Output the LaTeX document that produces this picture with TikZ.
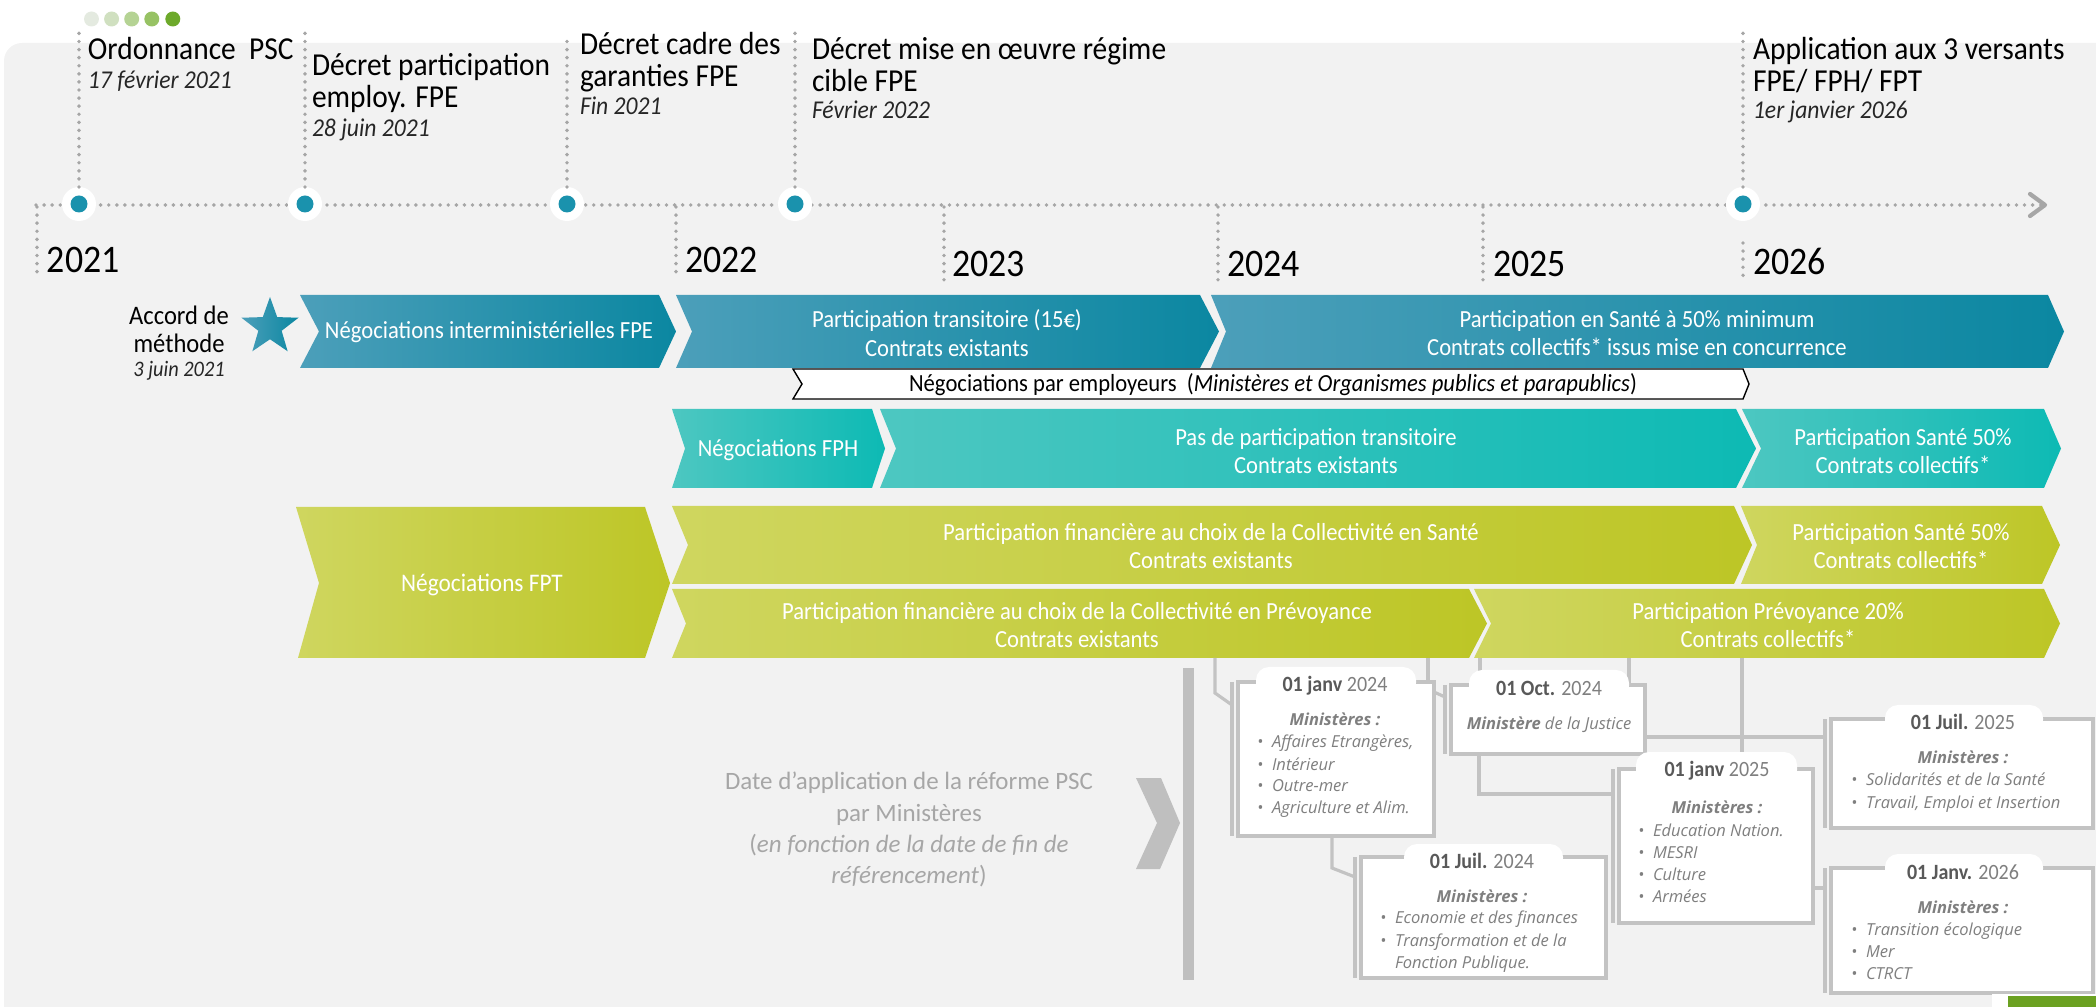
\documentclass[tikz,border=0pt]{standalone}
\usepackage{fontspec}
\setmainfont{Carlito}[FakeStretch=0.92]
\newfontfamily\plainfont{Carlito}
\newfontfamily\boxfont{Open Sans}
\usetikzlibrary{shapes.geometric}
\definecolor{bgc}{HTML}{F2F2F2}
\definecolor{dotg}{HTML}{A6A6A6}
\definecolor{tdot}{HTML}{1A92AD}
\definecolor{fpeL}{HTML}{4C9FBA}
\definecolor{fpeR}{HTML}{0B87A1}
\definecolor{fphL}{HTML}{4DC7C1}
\definecolor{fphR}{HTML}{0DBAB4}
\definecolor{fptL}{HTML}{CFD65F}
\definecolor{fptM}{HTML}{C9D42E}
\definecolor{fptR}{HTML}{BDC626}
\definecolor{boxg}{HTML}{C3C3C3}
\definecolor{barg}{HTML}{BFBFBF}
\definecolor{darkg}{HTML}{595959}
\definecolor{midg}{HTML}{7F7F7F}
\definecolor{lightg}{HTML}{A6A6A6}
\definecolor{dateg}{HTML}{262626}
\definecolor{dc1}{HTML}{E4EAE0}
\definecolor{dc2}{HTML}{D0E0C0}
\definecolor{dc3}{HTML}{B5D394}
\definecolor{dc4}{HTML}{97C264}
\definecolor{dc5}{HTML}{6DA92B}
\definecolor{grn}{HTML}{6BA121}
\newcommand\fTitle{\fontsize{9.1}{10}\selectfont}
\newcommand\fDate{\fontsize{7.3}{8}\selectfont\itshape}
\newcommand\fYear{\fontsize{11.1}{12}\selectfont}
\newcommand\fBar{\fontsize{7}{8.1}\selectfont}
\newcommand\fBoxDate{\fontsize{6.2}{7}\selectfont}
\newcommand\fBox{\boxfont\fontsize{4.7}{5.5}\selectfont}
\newcommand\fNote{\plainfont\fontsize{7.1}{8}\selectfont}
\tikzset{
  dotl/.style={draw=dotg,line width=1.1pt,line cap=round,dash pattern=on 0pt off 2.3pt},
  halo/.style={circle,fill=white,minimum size=3.4mm},
  tdotn/.style={circle,fill=tdot,minimum size=1.7mm},
  ttl/.style={anchor=base west,font=\fTitle,text=black},
  dte/.style={anchor=base west,font=\fDate,text=dateg},
  yr/.style={anchor=base west,font=\fYear,text=black},
  bartxt/.style={align=center,font=\fBar,text=white},
  conn/.style={draw=boxg,line width=0.9pt},
  brk/.style={draw=boxg,line width=1pt},
  mbox/.style={rectangle,draw=boxg,line width=0.9pt,fill=white,anchor=north west},
  tabw/.style={fill=white,rounded corners=1.3mm},
  bdate/.style={anchor=base,font=\fBoxDate,text=darkg},
  bmin/.style={anchor=base,font=\fBox\itshape\bfseries,text=midg},
  bitem/.style={anchor=base west,font=\fBox\itshape,text=midg},
  note/.style={anchor=base,font=\fNote,text=lightg}
}
\begin{document}
\begin{tikzpicture}[x=0.1mm,y=-0.1mm,every node/.style={inner sep=0pt,outer sep=0pt}]
\useasboundingbox (0,0) rectangle (2096,1007);
\begin{scope}
\clip (0,0) rectangle (2096,1007);
\fill[bgc,rounded corners=1.8mm] (4,43) rectangle (2160,1080);
\end{scope}
% small progress dots
\foreach \x/\c in {91.5/dc1,111.6/dc2,131.7/dc3,151.8/dc4,172.8/dc5}
  \fill[\c] (\x,19) circle (7.5);
% timeline
\coordinate (tl0) at (36,205);
\coordinate (tl1) at (2045,205);
\draw[dotl] (tl0) -- (tl1);
\draw[dotg,line width=1.2pt,line cap=round,line join=round] (2030,194) -- (tl1) -- (2030,216);
\foreach \x/\a/\b in {37/207/275,676/207/275,944/207/283,1218/207/283,1483/207/283,1743/243/278}
  \draw[dotl] (\x,\a) -- (\x,\b);
% milestones
\foreach \n/\x/\t in {1/79/33,2/305/28,3/567/37,4/795/33,5/1743/33}{
  \node[halo] (m\n) at (\x,204) {};
  \node[tdotn] (md\n) at (\x,204) {};
  \draw[dotl] (m\n.north) -- (\x,\t);
}
\node[ttl] (t1a) at (88,60) {Ordonnance\ \ PSC};
\node[dte] (t1b) at (88,89) {17 février 2021};
\node[ttl] (t2a) at (312,76) {Décret participation};
\node[ttl] (t2b) at (312,108) {employ. FPE};
\node[dte] (t2c) at (312,137) {28 juin 2021};
\node[ttl] (t3a) at (580,55) {Décret cadre des};
\node[ttl] (t3b) at (580,87) {garanties FPE};
\node[dte] (t3c) at (580,115) {Fin 2021};
\node[ttl] (t4a) at (812,60) {Décret mise en œuvre régime};
\node[ttl] (t4b) at (812,92) {cible FPE};
\node[dte] (t4c) at (812,119) {Février 2022};
\node[ttl] (t5a) at (1753,60) {Application aux 3 versants};
\node[ttl] (t5b) at (1753,92) {FPE/ FPH/ FPT};
\node[dte] (t5c) at (1753,119) {1er janvier 2026};
% years
\node[yr] (y21) at (47,273) {2021};
\node[yr] (y22) at (685,273) {2022};
\node[yr] (y23) at (952,277) {2023};
\node[yr] (y24) at (1227,277) {2024};
\node[yr] (y25) at (1493,277) {2025};
\node[yr] (y26) at (1753,275) {2026};
% accord de methode
\node[anchor=base,font=\fontsize{7.6}{8}\selectfont] (acc1) at (179,325) {Accord de};
\node[anchor=base,font=\fontsize{7.6}{8}\selectfont] (acc2) at (179,353) {méthode};
\node[anchor=base,font=\fontsize{6.3}{7}\selectfont\itshape,text=dateg] (acc3) at (179,377) {3 juin 2021};
\node[star,star points=5,star point ratio=2.45,minimum size=6mm,left color=fpeL,right color=fpeR] (star) at (270,327) {};
% FPE row
\path[left color=fpeL,right color=fpeR] (300,295) -- (319,331.5) -- (300,368) -- (659,368) -- (676,331.5) -- (659,295) -- cycle;
\path[left color=fpeL,right color=fpeR] (676,295) -- (692,331.5) -- (676,368) -- (1200,368) -- (1219,331.5) -- (1200,295) -- cycle;
\path[left color=fpeL,right color=fpeR] (1211,295) -- (1226,331.5) -- (1211,368) -- (2048,368) -- (2064,331.5) -- (2048,295) -- cycle;
\node[bartxt] (ta) at (489,332) {Négociations interministérielles FPE};
\node[bartxt] (tb) at (947,333) {Participation transitoire (15€)\\Contrats existants};
\node[bartxt] (tc) at (1637,333) {Participation en Santé à 50\% minimum\\Contrats collectifs* issus mise en concurrence};
% employeurs
\draw[black,line width=0.4pt,fill=white] (793,369) -- (802,384) -- (793,399) -- (1743,399) -- (1749,384) -- (1743,369) -- cycle;
\node[font=\fBar] (temp) at (1273,385) {Négociations par employeurs\ \ (\textit{Ministères et Organismes publics et parapublics})};
% FPH row
\path[left color=fphL,right color=fphR] (672,409) -- (685,448.5) -- (672,488) -- (872,488) -- (885,448.5) -- (872,409) -- cycle;
\path[left color=fphL,right color=fphR] (880,409) -- (896,448.5) -- (880,488) -- (1736,488) -- (1756,448.5) -- (1736,409) -- cycle;
\path[left color=fphL,right color=fphR] (1742,409) -- (1761,448.5) -- (1742,488) -- (2044,488) -- (2061,448.5) -- (2044,409) -- cycle;
\node[bartxt] (td) at (778,450) {Négociations FPH};
\node[bartxt] (te) at (1316,451) {Pas de participation transitoire\\Contrats existants};
\node[bartxt] (tf) at (1903,451) {Participation Santé 50\%\\Contrats collectifs*};
% FPT rows
\path[left color=fptL,middle color=fptM,right color=fptR] (296,507) -- (319,583) -- (298,658) -- (645,658) -- (670,583) -- (645,507) -- cycle;
\path[left color=fptL,middle color=fptM,right color=fptR] (672,506) -- (688,545) -- (672,584) -- (1734,584) -- (1752,545) -- (1734,506) -- cycle;
\path[left color=fptL,middle color=fptM,right color=fptR] (1741,506) -- (1757,545) -- (1741,584) -- (2042,584) -- (2060,545) -- (2042,506) -- cycle;
\path[left color=fptL,middle color=fptM,right color=fptR] (672,589) -- (686,623.5) -- (672,658) -- (1469,658) -- (1487,623.5) -- (1469,589) -- cycle;
\path[left color=fptL,middle color=fptM,right color=fptR] (1474,589) -- (1491,623.5) -- (1474,658) -- (2044,658) -- (2060,623.5) -- (2044,589) -- cycle;
\node[bartxt,font=\fontsize{7.2}{8}\selectfont] (tg) at (482,585) {Négociations FPT};
\node[bartxt] (th) at (1211,546) {Participation financière au choix de la Collectivité en Santé\\Contrats existants};
\node[bartxt] (ti) at (1901,546) {Participation Santé 50\%\\Contrats collectifs*};
\node[bartxt] (tj) at (1077,625) {Participation financière au choix de la Collectivité en Prévoyance\\Contrats existants};
\node[bartxt] (tk) at (1768,625) {Participation Prévoyance 20\%\\Contrats collectifs*};
% bottom-left note
\node[note] (n1) at (909,790) {Date d’application de la réforme PSC};
\node[note] (n2) at (909,821) {par Ministères};
\node[note] (n3) at (909,852) {(\textit{en fonction de la date de fin de}};
\node[note] (n4) at (909,883) {\textit{référencement})};
\fill[barg] (1183,668) rectangle (1194,980);
\fill[barg] (1136,778) -- (1161,778) -- (1180,823) -- (1160,869) -- (1136,869) -- (1157,823) -- cycle;
% boxes (nodes, defined first so connectors can use them)
\node[mbox,minimum width=19.6mm,minimum height=15.4mm] (b1) at (1238,682) {};
\node[mbox,minimum width=19.4mm,minimum height=6.9mm] (b2) at (1451,685) {};
\node[mbox,minimum width=24.5mm,minimum height=12.1mm] (b3) at (1361,857) {};
\node[mbox,minimum width=19.4mm,minimum height=15.4mm] (b4) at (1619,769) {};
\node[mbox,minimum width=26.2mm,minimum height=10.9mm] (b5) at (1831,719) {};
\node[mbox,minimum width=26.2mm,minimum height=12.5mm] (b6) at (1831,868) {};
\foreach \b in {b1,b2,b3,b4,b5,b6}
  \coordinate (k\b) at ([xshift=-0.6mm]\b.north west);
% connectors
\coordinate (g1) at (1215,658);
\coordinate (g2) at (1428,658);
\coordinate (g3) at (1480,658);
\coordinate (g4) at (1629,658);
\coordinate (g5) at (1742,658);
\begin{scope}[on background layer/.style={}]
\draw[conn] (g1) -- (1215,693) -- ([yshift=-2.3mm]kb1);
\draw[conn] (g2) -- (g2 |- b1.north);
\draw[conn] (g3) -- (g3 |- b2.north);
\draw[conn] (g4) -- (g4 |- b2.north);
\draw[conn] (g5) -- (g5 |- b4.north);
\draw[conn] ([yshift=-1mm]b1.north east) -- ([yshift=-1.2mm]kb2);
\draw[conn] ([xshift=2.8mm]b2.south west) |- ([yshift=-2.5mm]kb4);
\draw[conn] ([yshift=-5.2mm]b2.north east) -- ([yshift=-5.2mm]b2.north east -| kb5);
\draw[conn] ([xshift=9.4mm]b1.south west) -- ++(0,32) -- ([yshift=-2mm]kb3);
\draw[conn] ([yshift=-11.9mm]b4.north east) -- ([yshift=-11.9mm]b4.north east -| kb6);
\end{scope}
% redraw boxes on top of connectors
\foreach \b/\w/\h in {b1/19.6/15.4,b2/19.4/6.9,b3/24.5/12.1,b4/19.4/15.4,b5/26.2/10.9,b6/26.2/12.5}{
  \draw[boxg,line width=0.9pt,fill=white] (\b.north west) rectangle (\b.south east);
  \draw[brk] (k\b) -- ([xshift=-0.6mm]\b.south west);
}
% tabs
\fill[tabw] (1256,667) rectangle (1416,696);
\fill[tabw] (1469,670) rectangle (1629,699);
\fill[tabw] (1404,844) rectangle (1563,871);
\fill[tabw] (1636,752) rectangle (1797,783);
\fill[tabw] (1885,705) rectangle (2043,733);
\fill[tabw] (1885,854) rectangle (2043,882);
% box texts
\node[bdate] (b1d) at (1335,692) {\textbf{01 janv} \textcolor{midg}{2024}};
\node[bmin] (b1m) at (1335,725) {Ministères :};
\node[bitem] (b1i1) at (1257,747) {\makebox[1.5mm][l]{•}Affaires Etrangères,};
\node[bitem] (b1i2) at (1257,770) {\makebox[1.5mm][l]{•}Intérieur};
\node[bitem] (b1i3) at (1257,792) {\makebox[1.5mm][l]{•}Outre-mer};
\node[bitem] (b1i4) at (1257,813) {\makebox[1.5mm][l]{•}Agriculture et Alim.};
\node[bdate] (b2d) at (1549,695) {\textbf{01 Oct.} \textcolor{midg}{2024}};
\node[bitem,anchor=base] (b2m) at (1549,729) {\textbf{Ministère} de la Justice};
\node[bdate] (b3d) at (1482,868) {\textbf{01 Juil.} \textcolor{midg}{2024}};
\node[bmin] (b3m) at (1482,902) {Ministères :};
\node[bitem] (b3i1) at (1380,923) {\makebox[1.5mm][l]{•}Economie et des finances};
\node[bitem] (b3i2) at (1380,946) {\makebox[1.5mm][l]{•}Transformation et de la};
\node[bitem] (b3i3) at (1395,968) {Fonction Publique.};
\node[bdate] (b4d) at (1717,777) {\textbf{01 janv} \textcolor{midg}{2025}};
\node[bmin] (b4m) at (1717,813) {Ministères :};
\node[bitem] (b4i1) at (1638,836) {\makebox[1.5mm][l]{•}Education Nation.};
\node[bitem] (b4i2) at (1638,858) {\makebox[1.5mm][l]{•}MESRI};
\node[bitem] (b4i3) at (1638,880) {\makebox[1.5mm][l]{•}Culture};
\node[bitem] (b4i4) at (1638,902) {\makebox[1.5mm][l]{•}Armées};
\node[bdate] (b5d) at (1963,730) {\textbf{01 Juil.} \textcolor{midg}{2025}};
\node[bmin] (b5m) at (1963,763) {Ministères :};
\node[bitem] (b5i1) at (1851,786) {\makebox[1.5mm][l]{•}Solidarités et de la Santé};
\node[bitem] (b5i2) at (1851,808) {\makebox[1.5mm][l]{•}Travail, Emploi et Insertion};
\node[bdate] (b6d) at (1963,879) {\textbf{01 Janv.} \textcolor{midg}{2026}};
\node[bmin] (b6m) at (1963,913) {Ministères :};
\node[bitem] (b6i1) at (1851,935) {\makebox[1.5mm][l]{•}Transition écologique};
\node[bitem] (b6i2) at (1851,957) {\makebox[1.5mm][l]{•}Mer};
\node[bitem] (b6i3) at (1851,979) {\makebox[1.5mm][l]{•}CTRCT};
% bottom-right corner
\fill[white] (1992,994) rectangle (2096,1007);
\fill[grn] (2008,996) rectangle (2096,1007);
\end{tikzpicture}
\end{document}
